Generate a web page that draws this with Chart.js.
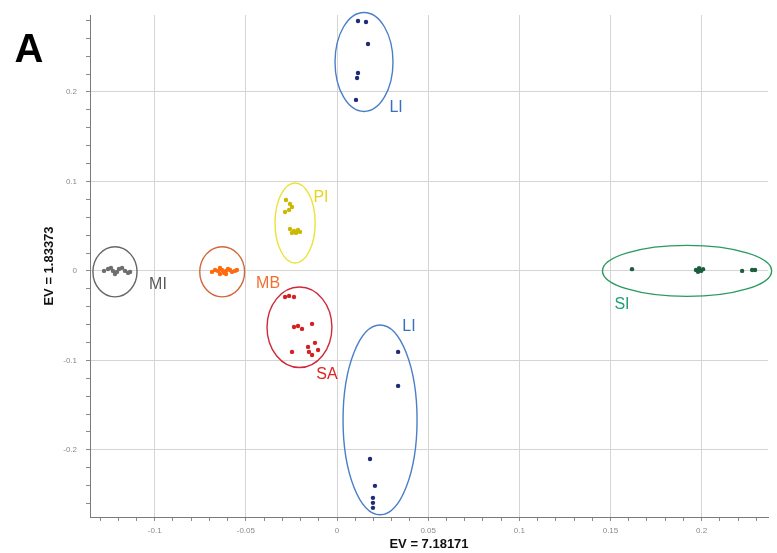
<!DOCTYPE html>
<html>
<head>
<meta charset="utf-8">
<script src="https://cdn.jsdelivr.net/npm/chart.js@4.4.1/dist/chart.umd.min.js"></script>
<style>
  html, body { margin: 0; padding: 0; background: #fff; }
  #wrap { width: 777px; height: 553px; }
</style>
</head>
<body>
<div id="wrap"><canvas id="pca" width="777" height="553"></canvas></div>
<script>
// ======================
// data
// ======================
const xRange = [-0.1355, 0.2364];
const yRange = [-0.275, 0.286];

const groupNames = ["MI", "MB", "PI", "SA", "LI", "LI", "SI"];

const miPoints = [[-0.1278, 0], [-0.1256, 0.0022], [-0.1240, 0.0034], [-0.1229, 0], [-0.1218, -0.0034],
  [-0.1207, -0.0011], [-0.1196, 0.0022], [-0.1179, 0.0034], [-0.1163, 0], [-0.1146, -0.0022], [-0.1135, -0.0011]];
const mbPoints = [[-0.0686, -0.0011], [-0.0669, 0.0011], [-0.0653, 0], [-0.0642, 0.0034], [-0.0631, 0.0011],
  [-0.0620, -0.0022], [-0.0609, 0], [-0.0598, 0.0022], [-0.0587, 0.0011], [-0.0576, -0.0011],
  [-0.0560, 0], [-0.0549, 0.0011], [-0.0642, -0.0034], [-0.0609, -0.0034]];
const piPoints = [[-0.0280, 0.0793], [-0.0258, 0.0749], [-0.0247, 0.0715], [-0.0263, 0.0682], [-0.0285, 0.0659],
  [-0.0258, 0.0469], [-0.0236, 0.0447], [-0.0214, 0.0458], [-0.0225, 0.0425], [-0.0203, 0.0436], [-0.0247, 0.0425]];
const saPoints = [[-0.0285, -0.0291], [-0.0263, -0.0279], [-0.0236, -0.0291],
  [-0.0236, -0.0626], [-0.0214, -0.0615], [-0.0192, -0.0648], [-0.0137, -0.0592],
  [-0.0247, -0.0905], [-0.0159, -0.0849], [-0.0121, -0.0804], [-0.0137, -0.0939], [-0.0104, -0.0883], [-0.0154, -0.0905]];
const liUpperPoints = [[0.0115, 0.2793], [0.0159, 0.2782], [0.0170, 0.2536], [0.0115, 0.2212], [0.0110, 0.2156], [0.0104, 0.1911]];
const liLowerPoints = [[0.0335, -0.0905], [0.0335, -0.1285], [0.0181, -0.2101], [0.0208, -0.2402],
  [0.0197, -0.2536], [0.0197, -0.2592], [0.0197, -0.2648]];
const siPoints = [[0.1618, 0.002], [0.1969, 0.001], [0.1986, 0.003], [0.1997, 0], [0.2008, 0.002],
  [0.1980, -0.001], [0.2222, 0], [0.2277, 0.001], [0.2293, 0.001]];

const groupPoints = [miPoints, mbPoints, piPoints, saPoints, liUpperPoints, liLowerPoints, siPoints];

// confidence ellipses: centre and half-axes in data units
const ellipseCenters = [[-0.1218, -0.001], [-0.063, -0.001], [-0.023, 0.0536], [-0.0206, -0.063],
  [0.0148, 0.2335], [0.0236, -0.1665], [0.192, 0.0]];
const ellipseRadii = [[0.0121, 0.028], [0.0123, 0.028], [0.011, 0.0447], [0.0178, 0.045],
  [0.0159, 0.0553], [0.0203, 0.106], [0.0464, 0.0285]];
// where each group name sits (data units)
const labelAnchors = [[-0.0982, -0.0156], [-0.0378, -0.0145], [-0.0088, 0.0815], [-0.0055, -0.1162],
  [0.0324, 0.1821], [0.0395, -0.0626], [0.1563, -0.038]];

// ======================
// styles
// ======================
const pointColors = ["#6e6e6e", "#ff6a10", "#cdb800", "#d42020", "#1f2a78", "#1f2a78", "#1b5e40"];
const ellipseColors = ["#666666", "#d0683a", "#ece23a", "#cf2a3a", "#4a7fc8", "#4a7fc8", "#2a9a60"];
const labelColors = ["#5a5a5a", "#f07030", "#e6d520", "#e02222", "#3a70c0", "#3a70c0", "#1fa070"];

function isMajor(v, step) {
  return Math.abs(v / step - Math.round(v / step)) < 1e-6;
}

function fmt(v) {
  return String(+v.toFixed(2));
}

// ======================
// ellipses + group names + panel letter
// ======================
const clusterPlugin = {
  id: "clusters",
  afterDatasetsDraw(chart) {
    const { ctx } = chart;
    const sx = chart.scales.x;
    const sy = chart.scales.y;

    ellipseCenters.forEach((c, i) => {
      const cx = sx.getPixelForValue(c[0]);
      const cy = sy.getPixelForValue(c[1]);
      const rx = Math.abs(sx.getPixelForValue(c[0] + ellipseRadii[i][0]) - cx);
      const ry = Math.abs(sy.getPixelForValue(c[1] + ellipseRadii[i][1]) - cy);
      ctx.save();
      ctx.beginPath();
      ctx.ellipse(cx, cy, rx, ry, 0, 0, Math.PI * 2);
      ctx.strokeStyle = ellipseColors[i];
      ctx.lineWidth = 1.4;
      ctx.stroke();
      ctx.restore();
    });

    ctx.save();
    ctx.font = "16px 'Liberation Sans', Arial, sans-serif";
    ctx.textAlign = "center";
    ctx.textBaseline = "middle";
    labelAnchors.forEach((a, i) => {
      ctx.fillStyle = labelColors[i];
      ctx.fillText(groupNames[i], sx.getPixelForValue(a[0]), sy.getPixelForValue(a[1]));
    });

    ctx.fillStyle = "#000";
    ctx.font = "bold 40px 'Liberation Sans', Arial, sans-serif";
    ctx.fillText("A", 29, 51);
    ctx.restore();
  }
};

// ======================
// chart
// ======================
const datasets = groupPoints.map((pts, i) => ({
  label: groupNames[i],
  data: pts.map(p => ({ x: p[0], y: p[1] })),
  backgroundColor: pointColors[i],
  borderWidth: 0,
  pointRadius: 2.2
}));

const tickFont = { family: "'Liberation Sans', Arial, sans-serif", size: 8 };
const titleFont = { family: "'Liberation Sans', Arial, sans-serif", size: 13, weight: "bold" };

new Chart(document.getElementById("pca"), {
  type: "scatter",
  data: { datasets },
  options: {
    responsive: false,
    animation: false,
    devicePixelRatio: 1,
    layout: { padding: { top: 15, right: 9, left: 0, bottom: 0 } },
    plugins: { legend: { display: false }, tooltip: { enabled: false } },
    scales: {
      x: {
        type: "linear",
        min: xRange[0],
        max: xRange[1],
        afterFit: s => { s.height = 36; },
        border: { color: "#7a7a7a", width: 1 },
        grid: {
          color: c => isMajor(c.tick.value, 0.05) ? "#d4d4d4" : "rgba(0,0,0,0)",
          tickColor: "#8a8a8a",
          tickLength: 4
        },
        ticks: {
          stepSize: 0.01,
          includeBounds: false,
          autoSkip: false,
          maxRotation: 0,
          padding: 5,
          color: "#8a8a8a",
          font: tickFont,
          callback: v => isMajor(v, 0.05) ? fmt(v) : ""
        },
        title: { display: true, text: "EV = 7.18171", color: "#111", font: titleFont, padding: { top: 1, bottom: 1 } }
      },
      y: {
        type: "linear",
        min: yRange[0],
        max: yRange[1],
        afterFit: s => { s.width = 90; },
        border: { color: "#7a7a7a", width: 1 },
        grid: {
          color: c => isMajor(c.tick.value, 0.1) ? "#d4d4d4" : "rgba(0,0,0,0)",
          tickColor: "#8a8a8a",
          tickLength: 4
        },
        ticks: {
          stepSize: 0.02,
          includeBounds: false,
          autoSkip: false,
          padding: 9,
          color: "#8a8a8a",
          font: tickFont,
          callback: v => isMajor(v, 0.1) ? fmt(v) : ""
        },
        title: { display: true, text: "EV = 1.83373", color: "#111", font: titleFont, padding: { top: 42, bottom: 0 } }
      }
    }
  },
  plugins: [clusterPlugin]
});
</script>
</body>
</html>
